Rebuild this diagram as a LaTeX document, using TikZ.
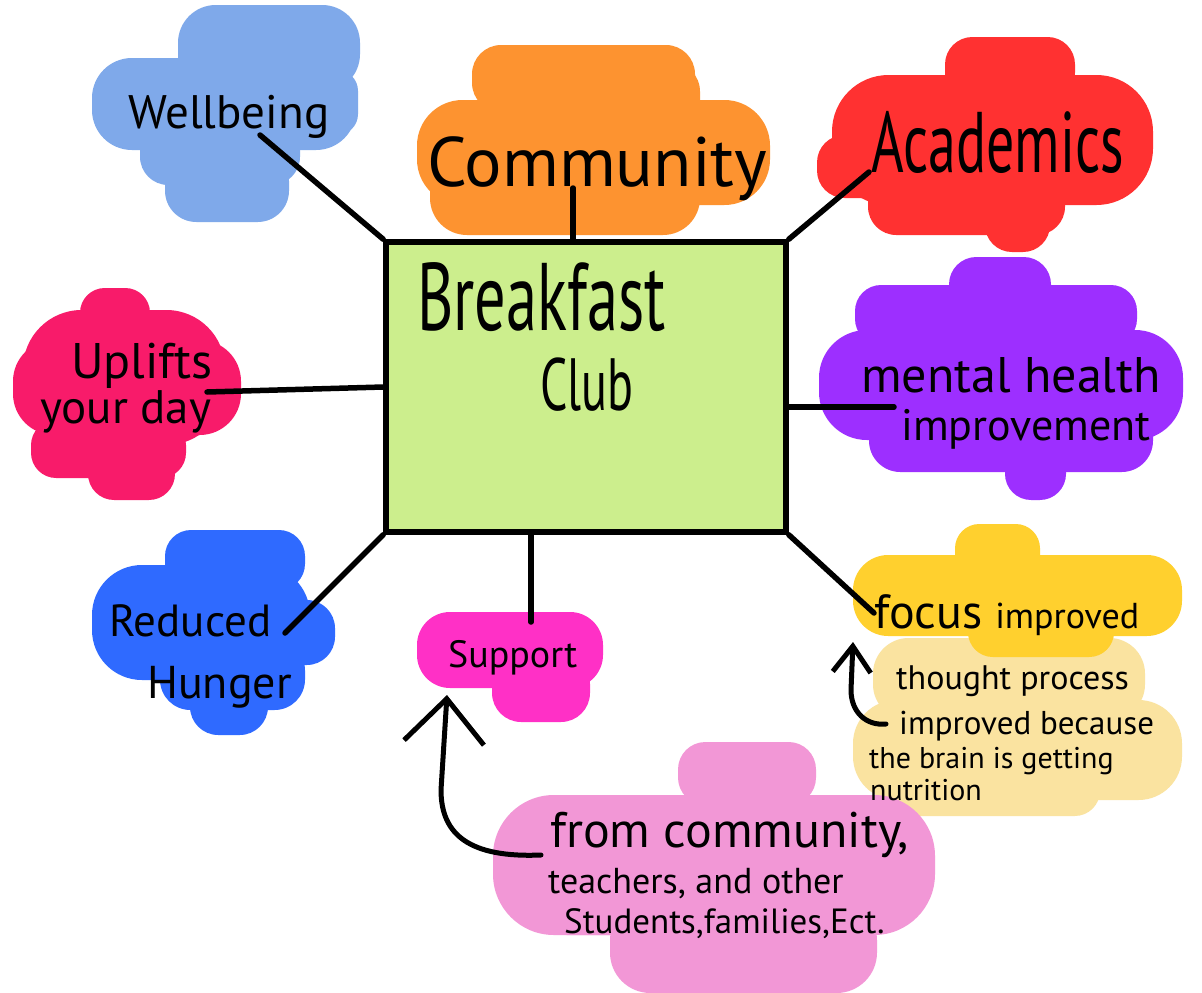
\documentclass[tikz,border=0pt]{standalone}
\usepackage{fontspec}
\setmainfont{PT Sans}
\newfontfamily\narrowhand{PT Sans}[FakeStretch=0.65]
\usetikzlibrary{arrows.meta}

\definecolor{wbblue}{HTML}{7FA9EA}
\definecolor{cmorange}{HTML}{FD9330}
\definecolor{acred}{HTML}{FF3131}
\definecolor{uprose}{HTML}{F81B6A}
\definecolor{mhpurple}{HTML}{9D2FFF}
\definecolor{rdblue}{HTML}{2F6AFF}
\definecolor{spmagenta}{HTML}{FF30C6}
\definecolor{fcyellow}{HTML}{FFD02E}
\definecolor{thcream}{HTML}{FAE3A0}
\definecolor{frpink}{HTML}{F297D6}
\definecolor{clubgreen}{HTML}{CCEE8D}

\newcommand\txt[1]{\fontsize{#1}{#1}\selectfont}

\begin{document}
\begin{tikzpicture}[x=1pt,y=-1pt,line cap=round,line join=round,
		link/.style={line width=5.5pt},
		lbl/.style={inner sep=0pt,anchor=base west},
		back/.style 2 args={-{Straight Barb[length=#1,width=#2]},line width=5pt}]
	\useasboundingbox (0,0) rectangle (1202,993);
	\fill[white] (0,0) rectangle (1202,993);
	% blobs: a few well rounded rectangles each
	\def\blob#1#2{\foreach \xa/\ya/\xb/\yb in {#2}{
			\pgfmathsetmacro\r{min(abs(\xb-\xa),abs(\yb-\ya))/2.3}
			\fill[#1,rounded corners=\r pt] (\xa,\ya) rectangle (\xb,\yb);}}
	\blob{wbblue}{178/5/360/92, 92/58/356/150, 140/120/300/185, 165/150/289/222, 310/70/358/135}
	\blob{cmorange}{472/45/695/112, 600/62/700/130, 417/100/770/205, 430/150/700/235, 650/100/745/180}
	\blob{acred}{945/37/1075/100, 832/75/1153/205, 817/135/1000/198, 868/170/1065/235, 985/190/1050/252}
	\blob{uprose}{80/288/150/345, 23/310/225/445, 13/340/241/435, 31/420/186/478, 88/440/175/500}
	\blob{mhpurple}{949/257/1051/320, 855/285/1137/345, 819/330/1183/440, 869/400/1153/472, 1005/440/1066/500}
	\blob{rdblue}{165/530/305/590, 92/565/310/680, 120/600/335/665, 160/640/305/710, 190/670/268/735}
	\blob{spmagenta}{417/612/603/688, 492/655/590/722}
	\blob{thcream}{873/638/1145/720, 853/700/1182/800, 875/758/1100/816}
	\blob{fcyellow}{955/524/1040/580, 853/555/1182/636, 968/600/1114/657}
	\blob{frpink}{678/742/816/805, 493/795/935/935, 530/850/700/935, 610/900/877/993}
	% centre box
	\node[draw,line width=5.5pt,fill=clubgreen,minimum width=400pt,minimum height=290pt] (club) at (586,387) {};
	\node[lbl,font=\narrowhand\txt{96}] (breakfast) at (417,330) {Breakfast};
	\node[lbl,font=\narrowhand\txt{74}] (clubtxt) at (540,410) {Club};
	% labels
	\node[lbl,font=\txt{47}] (wellbeing) at (128,128) {Wellbeing};
	\node[lbl,font=\txt{70}] (community) at (427,186) {Community};
	\node[lbl,font=\narrowhand\txt{86}] (academics) at (871,172) {Academics};
	\node[lbl,font=\txt{50}] (uplifts) at (71,378) {Uplifts};
	\node[lbl,font=\txt{47}] (yourday) at (40,423) {your day};
	\node[lbl,font=\txt{50}] (mental) at (861,392) {mental health};
	\node[lbl,font=\txt{44}] (improv) at (901,440) {improvement};
	\node[lbl,font=\txt{45}] (reduced) at (109,636) {Reduced};
	\node[lbl,font=\txt{46}] (hunger) at (147,698) {Hunger};
	\node[lbl,font=\txt{38}] (support) at (448,667) {Support};
	\node[lbl,font=\txt{48}] (focus) at (874,628) {focus \txt{36}improved};
	\foreach \t/\x/\y/\s [count=\i] in {thought process/896/689/34, improved because/899/734/33,
			the brain is getting/869/768/30, nutrition/870/800/30}
		\node[lbl,font=\txt{\s}] (th\i) at (\x,\y) {\t};
	\node[lbl,font=\txt{50}] (from1) at (550,847) {from community,};
	\node[lbl,font=\txt{36}] (from2) at (548,893) {teachers, and other};
	\node[lbl,font=\txt{35}] (from3) at (564,933) {Students,families,Ect.};
	% connectors
	\coordinate (wb-end) at (260,135);
	\coordinate (cm-end) at (573,188);
	\coordinate (ac-end) at (869,172);
	\coordinate (up-end) at (207,392);
	\coordinate (mh-end) at (894,407);
	\coordinate (rd-end) at (285,633);
	\coordinate (sp-end) at (531,622);
	\coordinate (fc-end) at (874,613);
	\draw[link] (wb-end) -- (club.north west);
	\draw[link] (cm-end) -- (cm-end |- club.north);
	\draw[link] (ac-end) -- (club.north east);
	\draw[link] (up-end) -- (club.west);
	\draw[link] (mh-end) -- (mh-end -| club.east);
	\draw[link] (rd-end) -- (club.south west);
	\draw[link] (sp-end) -- (sp-end |- club.south);
	\draw[link] (fc-end) -- (club.south east);
	% curved arrows back to the blobs
	\coordinate (sp-tip) at (447,695);
	\coordinate (from-tail) at (541,855);
	\coordinate (fc-tip) at (853,642);
	\coordinate (th-tail) at (886,724);
	\draw[back={44pt}{80pt}] (from-tail) .. controls (470,858) and (441,835) .. (441,790) -- (sp-tip);
	\draw[back={26pt}{38pt}] (th-tail) .. controls (866,726) and (851,712) .. (851,690) -- (fc-tip);
\end{tikzpicture}
\end{document}
